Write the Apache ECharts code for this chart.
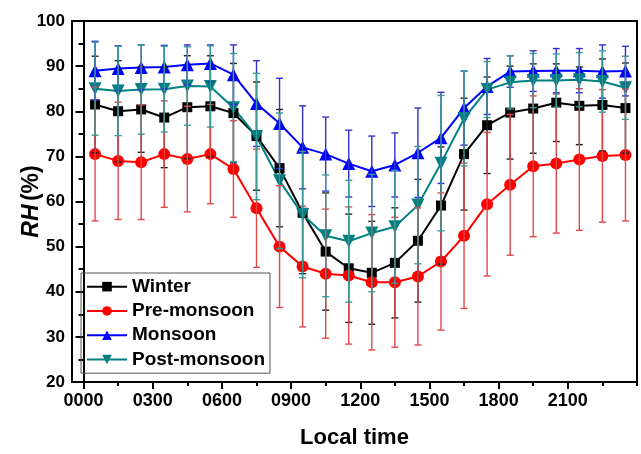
<!DOCTYPE html>
<html>
<head>
<meta charset="utf-8">
<script src="https://cdn.jsdelivr.net/npm/echarts@6/dist/echarts.min.js"></script>
<style>html,body{margin:0;padding:0;background:#fff}#c{width:641px;height:454px}</style>
</head>
<body>
<div id="c"></div>
<script>
var hours = [0.5,1.5,2.5,3.5,4.5,5.5,6.5,7.5,8.5,9.5,10.5,11.5,12.5,13.5,14.5,15.5,16.5,17.5,18.5,19.5,20.5,21.5,22.5,23.5];
var xTickValues = [0,3,6,9,12,15,18,21];
var xTickLabels = ['0000','0300','0600','0900','1200','1500','1800','2100'];
var xMinorTicks = [1.5,4.5,7.5,10.5,13.5,16.5,19.5,22.5,24];

var winter  = [81.5,80.0,80.4,78.6,80.9,81.1,79.6,74.5,67.4,57.5,48.9,45.2,44.2,46.4,51.3,59.1,70.5,76.9,79.7,80.6,81.9,81.2,81.4,80.7];
var winterSd= [10.7,11.2,9.5,11.1,11.4,11.2,11.0,12.0,13.0,13.5,13.0,12.0,11.4,12.2,13.6,13.0,12.4,10.7,10.3,9.9,8.6,8.6,10.2,10.0];
var pre     = [70.5,69.0,68.7,70.5,69.4,70.5,67.2,58.5,50.0,45.6,44.0,43.6,42.1,42.1,43.4,46.7,52.4,59.4,63.7,67.8,68.4,69.3,70.1,70.3];
var preSd   = [14.8,13.0,12.7,11.8,11.7,11.0,10.7,13.1,13.5,13.4,14.3,15.2,15.0,14.4,15.2,15.2,16.1,15.9,15.6,15.6,15.4,15.7,14.7,14.6];
var monsoon = [89.0,89.5,89.7,89.8,90.3,90.6,88.1,81.7,77.3,72.0,70.5,68.4,66.7,68.1,70.8,74.1,80.7,85.5,88.8,88.9,89.0,89.0,88.8,88.9];
var monsoonSd=[6.5,5.0,5.0,4.8,4.4,4.1,6.6,9.5,10.0,9.2,8.2,7.4,7.8,7.1,9.9,10.1,8.2,6.2,3.5,4.5,4.9,4.9,5.9,5.5];
var post    = [85.0,84.5,84.8,84.9,85.6,85.5,80.8,74.4,64.6,57.1,52.4,51.2,53.0,54.4,59.2,68.5,78.4,84.8,86.4,86.8,86.8,87.0,86.6,85.2];
var postSd  = [10.3,9.9,9.9,9.5,8.7,9.0,12.0,14.0,15.0,14.0,13.5,13.5,13.0,12.5,13.0,15.0,10.5,6.2,5.9,6.0,5.9,6.0,6.8,7.0];

var names = ['Winter','Pre-monsoon','Monsoon','Post-monsoon'];
var FONT = 'Liberation Sans, Arial, sans-serif';

function pts(vals){ return hours.map(function(h,i){ return [h, vals[i]]; }); }
function errs(vals, sd){ return hours.map(function(h,i){ return [h, vals[i]-sd[i], vals[i]+sd[i]]; }); }

function errSeries(name, data, color){
  return {
    type:'custom', name:name, data:data, z:5, silent:true,
    encode:{x:0, y:[1,2]},
    renderItem:function(params, api){
      var x = api.value(0);
      var lo = api.coord([x, api.value(1)]);
      var hi = api.coord([x, api.value(2)]);
      var w = 3.5;
      var st = {stroke:color, lineWidth:1.4};
      return {type:'group', children:[
        {type:'line', shape:{x1:lo[0],y1:lo[1],x2:hi[0],y2:hi[1]}, style:st},
        {type:'line', shape:{x1:lo[0]-w,y1:lo[1],x2:lo[0]+w,y2:lo[1]}, style:st},
        {type:'line', shape:{x1:hi[0]-w,y1:hi[1],x2:hi[0]+w,y2:hi[1]}, style:st}
      ]};
    }
  };
}
function lineSeries(name, data, color, symbol, size, rot){
  return {type:'line', name:name, data:data, z:3,
    symbol:symbol, symbolSize:size, symbolRotate:rot||0, showSymbol:true,
    lineStyle:{color:color, width:2}, itemStyle:{color:color, borderWidth:0},
    emphasis:{disabled:true}, animation:false};
}

var chart = echarts.init(document.getElementById('c'), null, {renderer:'canvas'});
chart.setOption({
  animation:false,
  backgroundColor:'#fff',
  grid:{left:72, right:4, top:21, bottom:70, show:true, borderColor:'#000', borderWidth:2, backgroundColor:'transparent'},
  legend:{
    orient:'vertical', left:81, top:273,
    data:names,
    itemWidth:40, itemHeight:12, itemGap:5,
    padding:[4,5,4,5],
    borderColor:'#555', borderWidth:1,
    textStyle:{fontFamily:FONT, fontWeight:'bold', fontSize:19, color:'#000', lineHeight:19.3}
  },
  xAxis:[{
    type:'value', min:-0.5, max:24,
    name:'Local time', nameLocation:'middle', nameGap:45, nameMoveOverlap:false,
    nameTextStyle:{fontFamily:FONT, fontWeight:'bold', fontSize:22, color:'#000'},
    axisLine:{lineStyle:{color:'#000', width:2}},
    axisTick:{customValues:xTickValues, length:7, lineStyle:{color:'#000', width:2}},
    axisLabel:{customValues:xTickValues, margin:10, fontFamily:FONT, fontWeight:'bold', fontSize:18, color:'#000',
      formatter:function(v){ var i = xTickValues.indexOf(v); return i>=0 ? xTickLabels[i] : ''; }},
    splitLine:{show:false}
  },{
    type:'value', min:-0.5, max:24, position:'bottom',
    axisLine:{show:false},
    axisTick:{customValues:xMinorTicks, length:4, lineStyle:{color:'#000', width:2}},
    axisLabel:{show:false}, splitLine:{show:false}
  }],
  yAxis:{
    type:'value', min:20, max:100, interval:10,
    name:'{i|RH} {n|(%)}', nameLocation:'middle', nameGap:29, nameRotate:90, nameMoveOverlap:false,
    nameTextStyle:{rich:{
      i:{fontFamily:FONT, fontWeight:'bold', fontStyle:'italic', fontSize:23, color:'#000'},
      n:{fontFamily:FONT, fontWeight:'bold', fontSize:23, color:'#000'}
    }},
    axisLine:{show:true, lineStyle:{color:'#000', width:2}},
    axisTick:{length:8, lineStyle:{color:'#000', width:2}},
    minorTick:{show:true, splitNumber:2, length:5, lineStyle:{color:'#000', width:2}},
    axisLabel:{margin:7, fontFamily:FONT, fontWeight:'bold', fontSize:17, color:'#000'},
    splitLine:{show:false}
  },
  series:[
    lineSeries('Winter', pts(winter), '#000000', 'rect', 10),
    lineSeries('Pre-monsoon', pts(pre), '#ff0000', 'circle', 12),
    lineSeries('Monsoon', pts(monsoon), '#0000ff', 'triangle', 13),
    lineSeries('Post-monsoon', pts(post), '#008080', 'triangle', 13, 180),
    errSeries('Winter', errs(winter, winterSd), '#222222'),
    errSeries('Pre-monsoon', errs(pre, preSd), '#e04848'),
    errSeries('Monsoon', errs(monsoon, monsoonSd), '#3030d0'),
    errSeries('Post-monsoon', errs(post, postSd), '#3a9a9a')
  ]
});
</script>
</body>
</html>
